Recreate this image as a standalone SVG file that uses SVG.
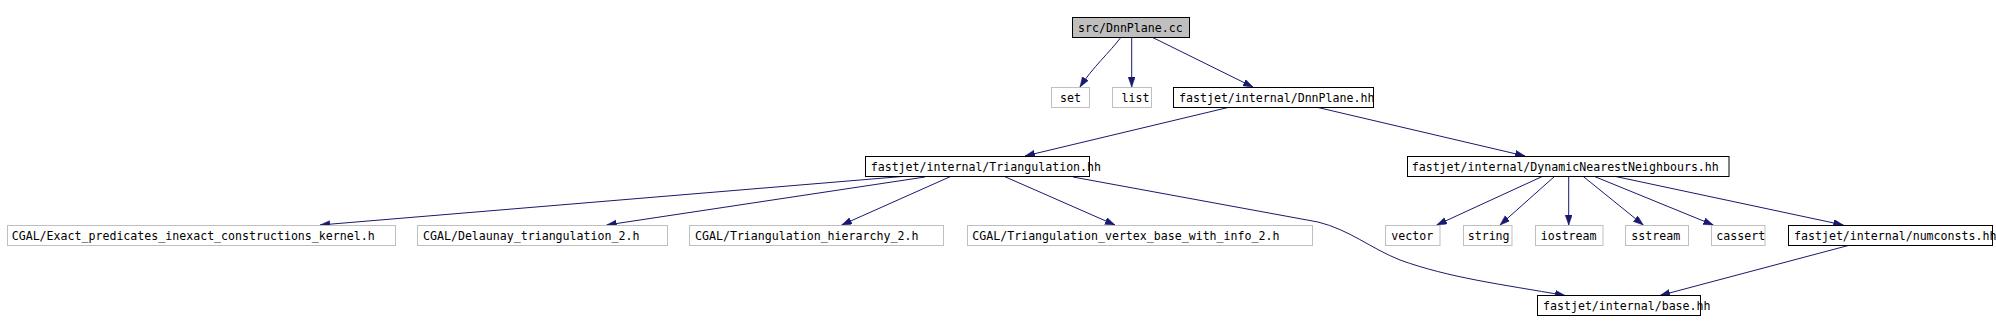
<svg xmlns="http://www.w3.org/2000/svg" width="1996" height="332" viewBox="0 0 1996 332">
<style>
  .bg { fill: #ffffff; }
  .box { fill: #ffffff; stroke: #000000; stroke-width: 1; }
  .gbox { fill: #ffffff; stroke: #bfbfbf; stroke-width: 1; }
  .root { fill: #bfbfbf; stroke: #000000; stroke-width: 1; }
  text { font-family: "DejaVu Sans Mono", "Liberation Mono", monospace; font-size: 11.6px; fill: #000000; }
  .edge { fill: none; stroke: #191970; stroke-width: 1; marker-end: url(#arr); }
</style>
<defs>
  <marker id="arr" markerUnits="userSpaceOnUse" markerWidth="11" markerHeight="8" refX="10" refY="3.5" orient="auto">
    <path d="M0,0 L10,3.5 L0,7 z" fill="#191970" stroke="#191970" stroke-width="0.5"/>
  </marker>
</defs>
<rect class="bg" x="0" y="0" width="1996" height="332"/>
<g id="edges">
  <path class="edge" d="M1120.7,37.5 C1110,52 1092,68 1080,87"/>
  <path class="edge" d="M1131.7,37.5 L1131.7,87"/>
  <path class="edge" d="M1152.7,37.5 L1253,87"/>
  <path class="edge" d="M1228,107.5 L1025,156"/>
  <path class="edge" d="M1318,107.5 L1525,156"/>
  <path class="edge" d="M908,176 L320,225"/>
  <path class="edge" d="M925,177 L606.7,225"/>
  <path class="edge" d="M951.7,176 L841.7,225"/>
  <path class="edge" d="M1003.3,176 L1115,225"/>
  <path class="edge" d="M1073,177 L1318,222 C1350,230 1370,248 1400,260 C1450,278 1500,284 1565,295.5"/>
  <path class="edge" d="M1543.3,176 L1436.7,225"/>
  <path class="edge" d="M1555,176 L1500,225"/>
  <path class="edge" d="M1568.7,176 L1568.7,225"/>
  <path class="edge" d="M1582.7,176 L1643.3,225"/>
  <path class="edge" d="M1593.3,176 L1713.3,225"/>
  <path class="edge" d="M1613.3,176 L1843.3,225"/>
  <path class="edge" d="M1848.3,245.5 L1660,295.5"/>
</g>
<g id="n_src">
  <rect class="root" x="1072.5" y="17.5" width="117" height="20"/>
  <text x="1078" y="31.5">src/DnnPlane.cc</text>
</g>
<g id="n_set">
  <rect class="gbox" x="1051.5" y="87.5" width="38" height="20"/>
  <text x="1060" y="101.5">set</text>
</g>
<g id="n_list">
  <rect class="gbox" x="1112.5" y="87.5" width="39" height="20"/>
  <text x="1121.5" y="101.5">list</text>
</g>
<g id="n_dnnplane">
  <rect class="box" x="1173.5" y="87.5" width="200" height="20"/>
  <text x="1179" y="101.5">fastjet/internal/DnnPlane.hh</text>
</g>
<g id="n_triangulation">
  <rect class="box" x="865.5" y="156.5" width="224" height="20"/>
  <text x="870.7" y="170.5">fastjet/internal/Triangulation.hh</text>
</g>
<g id="n_dnn">
  <rect class="box" x="1407.5" y="156.5" width="321.5" height="20"/>
  <text x="1411.7" y="170.5">fastjet/internal/DynamicNearestNeighbours.hh</text>
</g>
<g id="n_exact">
  <rect class="gbox" x="7.5" y="225.5" width="388" height="20"/>
  <text x="11.7" y="239.5">CGAL/Exact_predicates_inexact_constructions_kernel.h</text>
</g>
<g id="n_delaunay">
  <rect class="gbox" x="417.5" y="225.5" width="250" height="20"/>
  <text x="423" y="239.5">CGAL/Delaunay_triangulation_2.h</text>
</g>
<g id="n_hierarchy">
  <rect class="gbox" x="689.5" y="225.5" width="254" height="20"/>
  <text x="695" y="239.5">CGAL/Triangulation_hierarchy_2.h</text>
</g>
<g id="n_vertex">
  <rect class="gbox" x="967.5" y="225.5" width="345" height="20"/>
  <text x="972.3" y="239.5">CGAL/Triangulation_vertex_base_with_info_2.h</text>
</g>
<g id="n_vector">
  <rect class="gbox" x="1385.5" y="225.5" width="54.5" height="20"/>
  <text x="1391.3" y="239.5">vector</text>
</g>
<g id="n_string">
  <rect class="gbox" x="1463.5" y="225.5" width="48.5" height="20"/>
  <text x="1467.7" y="239.5">string</text>
</g>
<g id="n_iostream">
  <rect class="gbox" x="1535.5" y="225.5" width="67.5" height="20"/>
  <text x="1540.7" y="239.5">iostream</text>
</g>
<g id="n_sstream">
  <rect class="gbox" x="1625.5" y="225.5" width="63" height="20"/>
  <text x="1631.3" y="239.5">sstream</text>
</g>
<g id="n_cassert">
  <rect class="gbox" x="1711.5" y="225.5" width="53.5" height="20"/>
  <text x="1716.3" y="239.5">cassert</text>
</g>
<g id="n_numconsts">
  <rect class="box" x="1788.5" y="225.5" width="204" height="20"/>
  <text x="1794" y="239.5">fastjet/internal/numconsts.hh</text>
</g>
<g id="n_base">
  <rect class="box" x="1537.5" y="295.5" width="163" height="20"/>
  <text x="1543" y="309.5">fastjet/internal/base.hh</text>
</g>
</svg>
